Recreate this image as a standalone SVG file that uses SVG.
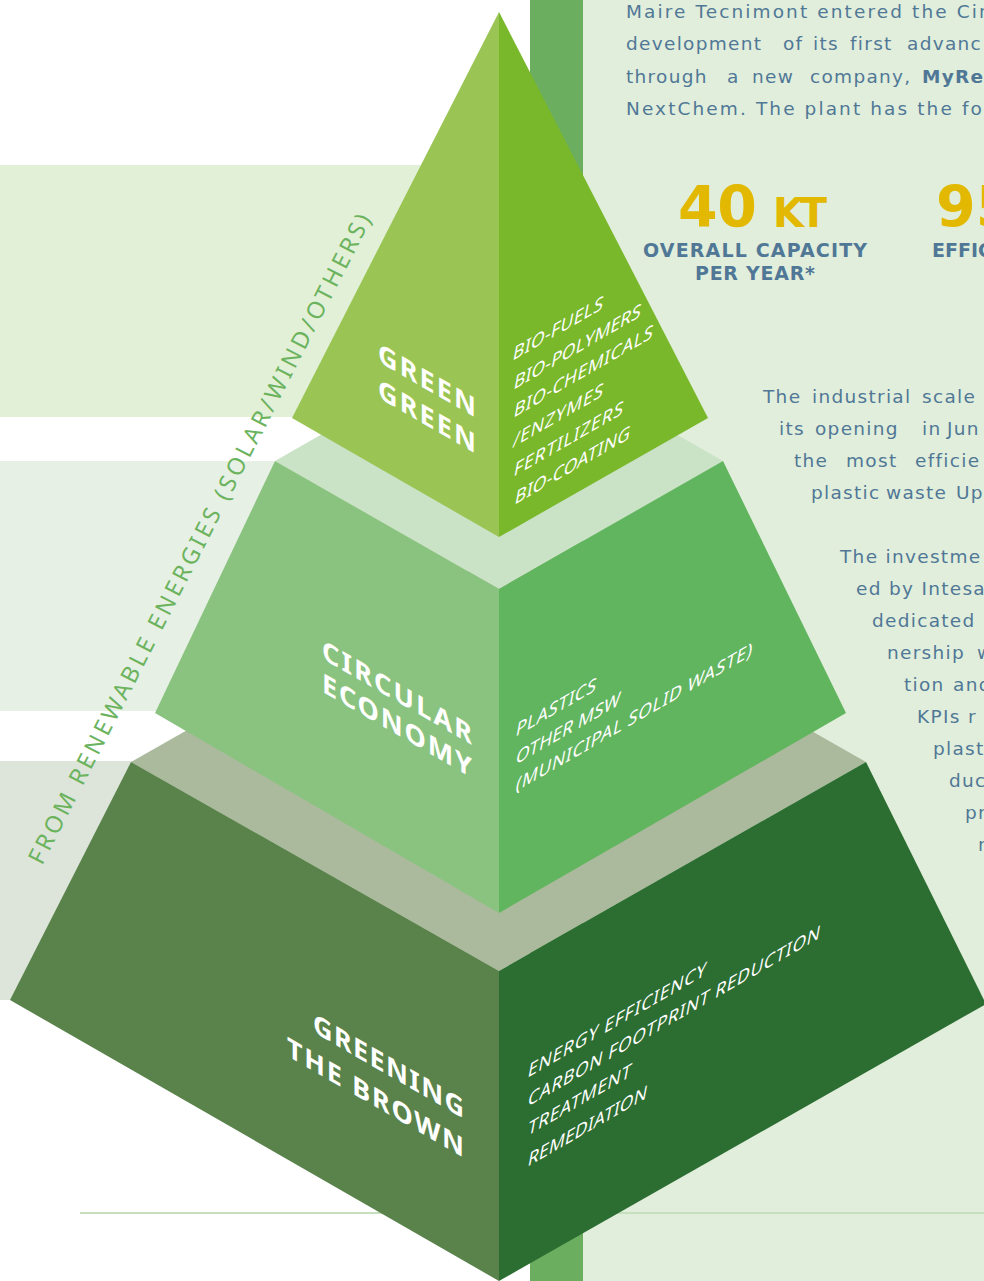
<svg xmlns="http://www.w3.org/2000/svg" width="984" height="1281" viewBox="0 0 984 1281">
<style>
.body{font-family:"DejaVu Sans","Liberation Sans",sans-serif;font-size:18.5px;letter-spacing:1.3px;fill:#507896}
.wide{letter-spacing:2.1px}
.bodyb{font-weight:bold}
.stat{font-family:"DejaVu Sans","Liberation Sans",sans-serif;font-weight:bold;fill:#e2b800}
.statlab{font-family:"DejaVu Sans","Liberation Sans",sans-serif;font-weight:bold;font-size:19px;fill:#507896}
.big{font-family:"Noto Sans","Liberation Sans",sans-serif;font-weight:bold;font-size:27px;fill:#ffffff}
.small{font-family:"Noto Sans","Liberation Sans",sans-serif;font-size:17.5px;fill:#ffffff}
.side{font-family:"Noto Sans","Liberation Sans",sans-serif;font-size:23.5px;fill:#6cb35e}
</style>
<rect x="0" y="0" width="984" height="1281" fill="#ffffff"/>
<g id="background">
  <rect x="583" y="0" width="401" height="1281" fill="#e1eedc"/>
  <rect x="530" y="0" width="53" height="1281" fill="#6cae5f"/>
  <rect x="0" y="165" width="500" height="252" fill="#e3f0d8"/>
  <rect x="0" y="461" width="500" height="250" fill="#e7f0e4"/>
  <rect x="0" y="761" width="500" height="239" fill="#dde5da"/>
  <line x1="80" y1="1213" x2="984" y2="1213" stroke="#c6dfbc" stroke-width="2"/>
</g>
<g id="tier-greening-the-brown">
  <polygon points="131,762 499,553 866,762 499,971" fill="#abba9d"/>
  <polygon points="131,762 499,971 499,1281 10,1000" fill="#5a834b"/>
  <polygon points="499,971 866,762 986,1004 499,1281" fill="#2c6d31"/>
  <text class="big" text-anchor="end" textLength="151" transform="translate(464,1119) skewY(30)">GREENING</text>
  <text class="big" text-anchor="end" textLength="177" transform="translate(464,1158) skewY(30)">THE BROWN</text>
  <text class="small" textLength="178" transform="translate(527,1078) skewY(-30) skewX(-12)">ENERGY EFFICIENCY</text>
  <text class="small" textLength="292" transform="translate(527,1107) skewY(-30) skewX(-12)">CARBON FOOTPRINT REDUCTION</text>
  <text class="small" textLength="103" transform="translate(527,1136) skewY(-30) skewX(-12)">TREATMENT</text>
  <text class="small" textLength="119" transform="translate(527,1167) skewY(-30) skewX(-12)">REMEDIATION</text>
</g>
<g id="tier-circular-economy">
  <polygon points="275,461 499,333 723,461 499,589" fill="#cae2c5"/>
  <polygon points="275,461 499,589 499,913 155,713" fill="#8ac380"/>
  <polygon points="499,589 723,461 846,713 499,913" fill="#62b55f"/>
  <text class="big" text-anchor="end" textLength="150" transform="translate(472,745) skewY(30)">CIRCULAR</text>
  <text class="big" text-anchor="end" textLength="150" transform="translate(472,778) skewY(30)">ECONOMY</text>
  <text class="small" textLength="80" transform="translate(515,737) skewY(-30) skewX(-12)">PLASTICS</text>
  <text class="small" textLength="104" transform="translate(515,765) skewY(-30) skewX(-12)">OTHER MSW</text>
  <text class="small" textLength="236" transform="translate(515,792) skewY(-30) skewX(-12)">(MUNICIPAL SOLID WASTE)</text>
</g>
<g id="tier-green-green">
  <polygon points="499,12 292,418 499,537" fill="#9ac554"/>
  <polygon points="499,12 708,418 499,537" fill="#79b82b"/>
  <text class="big" text-anchor="end" textLength="98" transform="translate(476,418) skewY(30)">GREEN</text>
  <text class="big" text-anchor="end" textLength="98" transform="translate(476,454) skewY(30)">GREEN</text>
  <text class="small" textLength="90" transform="translate(512,361) skewY(-30) skewX(-12)">BIO-FUELS</text>
  <text class="small" textLength="127" transform="translate(513,390) skewY(-30) skewX(-12)">BIO-POLYMERS</text>
  <text class="small" textLength="139" transform="translate(513,418) skewY(-30) skewX(-12)">BIO-CHEMICALS</text>
  <text class="small" textLength="90" transform="translate(512,448) skewY(-30) skewX(-12)">/ENZYMES</text>
  <text class="small" textLength="109" transform="translate(513,477) skewY(-30) skewX(-12)">FERTILIZERS</text>
  <text class="small" textLength="115" transform="translate(514,505) skewY(-30) skewX(-12)">BIO-COATING</text>
</g>
<g id="side-label">
  <text class="side" textLength="726" transform="translate(42,866) rotate(-63)">FROM RENEWABLE ENERGIES (SOLAR/WIND/OTHERS)</text>
</g>
<g id="intro-text" class="body">
  <text class="wide" x="626" y="18">Maire Tecnimont entered the Cir</text>
  <text y="50"><tspan x="626">development</tspan><tspan x="783">of</tspan><tspan x="813">its</tspan><tspan x="850">first</tspan><tspan x="907">advanc</tspan></text>
  <text y="83"><tspan x="626">through</tspan><tspan x="727">a</tspan><tspan x="752">new</tspan><tspan x="810">company,</tspan><tspan x="922" class="bodyb">MyRe</tspan></text>
  <text class="wide" x="626" y="115">NextChem. The plant has the fol</text>
</g>
<g id="stat-capacity">
  <text class="stat" x="678" y="227" font-size="57" textLength="79">40</text>
  <text class="stat" x="773" y="227" font-size="40" textLength="54">KT</text>
  <text class="statlab" x="755" y="257" text-anchor="middle" textLength="224">OVERALL CAPACITY</text>
  <text class="statlab" x="755" y="280" text-anchor="middle" textLength="120">PER YEAR*</text>
</g>
<g id="stat-efficiency">
  <text class="stat" x="936" y="227" font-size="57">95</text>
  <text class="statlab" x="932" y="257">EFFIC</text>
</g>
<g id="para-2" class="body">
  <text y="403"><tspan x="763">The</tspan><tspan x="812">industrial</tspan><tspan x="922">scale</tspan></text>
  <text y="435"><tspan x="779">its</tspan><tspan x="815">opening</tspan><tspan x="922">in</tspan><tspan x="947">Jun</tspan></text>
  <text y="467"><tspan x="794">the</tspan><tspan x="846">most</tspan><tspan x="915">efficie</tspan></text>
  <text y="499"><tspan x="811">plastic</tspan><tspan x="886">waste</tspan><tspan x="956">Up</tspan></text>
</g>
<g id="para-3" class="body">
  <text x="840" y="563">The investme</text>
  <text x="856" y="595">ed by Intesa</text>
  <text x="872" y="627">dedicated</text>
  <text y="659"><tspan x="887">nership</tspan><tspan x="977">w</tspan></text>
  <text y="691"><tspan x="904">tion</tspan><tspan x="953">and</tspan></text>
  <text y="723"><tspan x="917">KPIs</tspan><tspan x="968">r</tspan></text>
  <text x="933" y="755">plast</text>
  <text x="949" y="787">duc</text>
  <text x="965" y="819">pr</text>
  <text x="978" y="851">r</text>
</g>
</svg>
